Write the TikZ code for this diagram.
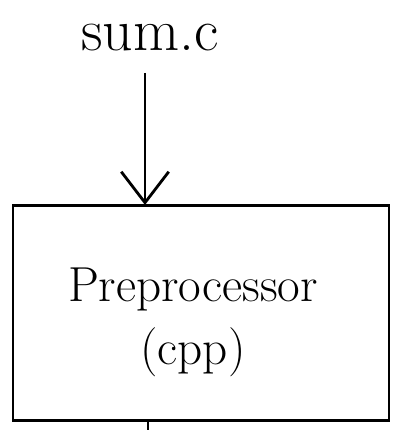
\documentclass[tikz,border=0pt]{standalone}
\usepackage{amsfonts,amssymb,amsmath}
\usepackage{xcolor}
\usetikzlibrary{arrows.meta,positioning}
\begin{document}
\begin{tikzpicture}[x=0.02cm,y=-0.02cm,line width=1.6pt,>={Straight Barb[length=0.62cm,width=0.95cm]}]
\useasboundingbox(0,0)rectangle(393,430);
\node(src)at(150,38){\fontsize{34}{40}\selectfont sum.c};
\node[draw,minimum width=7.52cm,minimum height=4.3cm,inner sep=0pt](cpp)at(201,313){};
\node[align=center,font=\fontsize{28}{36}\selectfont](cpplbl)at(193,322){Preprocessor\\(cpp)};
\coordinate(out)at(148,432);
\draw[->,shorten <=8pt](src.south-|145,0)--(145,205);
\draw(out|-cpp.south)--(out);
\end{tikzpicture}
\end{document}
